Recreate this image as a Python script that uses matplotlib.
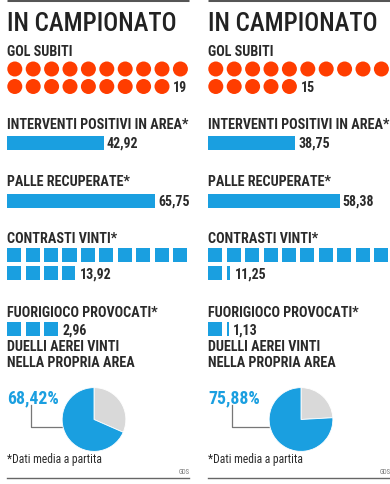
import matplotlib
matplotlib.use('Agg')
import os
import matplotlib.pyplot as plt
from matplotlib.patches import Rectangle, Circle
from matplotlib import font_manager as fm
from matplotlib.font_manager import FontProperties

FILES = [f.fname for f in fm.fontManager.ttflist]

def find(patterns):
    for pat in patterns:
        for fn in FILES:
            if os.path.basename(fn).lower().startswith(pat.lower()):
                return fn
    return None

BOLD_F = find(['RobotoCondensed-Bold.', 'LiberationSansNarrow-Bold.', 'NotoSans-CondensedBold.',
               'DejaVuSansCondensed-Bold.'])
REG_F = find(['RobotoCondensed-Regular.', 'LiberationSansNarrow-Regular.', 'NotoSans-Condensed.',
              'DejaVuSansCondensed.'])
TITLE_F = find(['RobotoCondensed-Medium.', 'NotoSans-CondensedMedium.',
                'RobotoCondensed-Regular.', 'LiberationSansNarrow-Regular.', 'DejaVuSansCondensed.'])

def fp(fname, weight):
    if fname:
        return FontProperties(fname=fname)
    return FontProperties(family='DejaVu Sans', weight=weight, stretch='condensed')

# ---------------- data ----------------
title = "IN CAMPIONATO"
lbl_gol = "GOL SUBITI"
lbl_interventi = "INTERVENTI POSITIVI IN AREA*"
lbl_palle = "PALLE RECUPERATE*"
lbl_contrasti = "CONTRASTI VINTI*"
lbl_fuorigioco = "FUORIGIOCO PROVOCATI*"
lbl_duelli = "DUELLI AEREI VINTI\nNELLA PROPRIA AREA"
footnote = "*Dati media a partita"
source = "GDS"

gol_subiti = [19, 15]
interventi = [42.92, 38.75]
palle = [65.75, 58.38]
contrasti = [13.92, 11.25]
fuorigioco = [2.96, 1.13]
duelli = [68.42, 75.88]

# ---------------- style ----------------
ORANGE = '#ff3d00'
BLUE = '#1a9fe0'
GREY = '#d9d9d9'
DARK = '#2a2a2a'
W, H = 390, 485

def fmt(v):
    return f"{v:.2f}".replace('.', ',')

fig = plt.figure(figsize=(W / 100, H / 100), dpi=100)
ax = fig.add_axes([0, 0, 1, 1])
ax.set_xlim(0, W)
ax.set_ylim(H, 0)
ax.axis('off')

step = 18.4
cell = 14.0
scale = 2.25
LS = 10.2   # label size
VS = 10.0   # value size

def label(x, y, s, size=LS, color=DARK, weight='bold', fname=None, **kw):
    f = fname if fname else (BOLD_F if weight == 'bold' else REG_F)
    prop = fp(f, weight)
    prop.set_size(size)
    ax.text(x, y, s, fontproperties=prop, color=color,
            va='baseline', ha=kw.pop('ha', 'left'), linespacing=kw.pop('linespacing', 1.2), **kw)

for p, x0 in enumerate([7.3, 208.3]):
    xr = x0 + 182
    ax.plot([x0, xr], [1, 1], color='#555555', lw=2.2, solid_capstyle='butt')
    label(x0, 31, title, size=18.0, color='#222222', weight='normal', fname=TITLE_F)

    label(x0, 56, lbl_gol)
    n = gol_subiti[p]
    rows_y = [70, 87.5]
    for i in range(n):
        cx = x0 + 7.5 + (i % 10) * step
        cy = rows_y[i // 10]
        ax.add_patch(Circle((cx, cy), 7.5, color=ORANGE, lw=0))
    last = (n - 1) % 10
    label(x0 + 7.5 + last * step + 11, rows_y[(n - 1) // 10] + 5, str(n), size=VS)

    for lab, vals, ly, by in [(lbl_interventi, interventi, 129, 137),
                              (lbl_palle, palle, 186, 195)]:
        label(x0, ly, lab)
        v = vals[p]
        ax.add_patch(Rectangle((x0, by), v * scale, 14, color=BLUE, lw=0))
        label(x0 + v * scale + 3, by + 11, fmt(v), size=VS)

    for lab, vals, ly, ys in [(lbl_contrasti, contrasti, 243, [249, 267]),
                              (lbl_fuorigioco, fuorigioco, 317, [323])]:
        label(x0, ly, lab)
        v = vals[p]
        full = int(v)
        frac = v - full
        cells = [1.0] * full + ([frac] if frac > 0 else [])
        for i, f in enumerate(cells):
            ax.add_patch(Rectangle((x0 + (i % 10) * step, ys[i // 10]), cell * f, cell,
                                   color=BLUE, lw=0))
        i = len(cells) - 1
        endx = x0 + (i % 10) * step + cell * cells[-1]
        label(endx + 4.5, ys[i // 10] + 12, fmt(v), size=VS)

    label(x0, 367, lbl_duelli, linespacing=1.15)
    label(x0, 403, fmt(duelli[p]) + '%', size=12.8, color=BLUE)
    pcx = [94, 301][p]
    pcy = 420.5
    r = 32.5
    pax = fig.add_axes([(pcx - r) / W, 1 - (pcy + r) / H, 2 * r / W, 2 * r / H])
    pax.pie([100 - duelli[p], duelli[p]], colors=[GREY, BLUE], startangle=90,
            counterclock=False, radius=1.0,
            wedgeprops=dict(edgecolor='white', linewidth=0.6))
    pax.set_xlim(-1.02, 1.02)
    pax.set_ylim(-1.02, 1.02)
    pax.axis('off')
    lx = x0 + 24
    ax.plot([lx, lx, pcx - r], [406, 428, 428], color='#777777', lw=0.9)

    label(x0, 463, footnote, size=8.4, weight='normal')
    ax.plot([x0, xr], [478.5, 478.5], color='#666666', lw=1.0)
    label(xr, 474, source, size=4.8, color='#777777', weight='normal', ha='right')

fig.savefig('out.png', dpi=100)
